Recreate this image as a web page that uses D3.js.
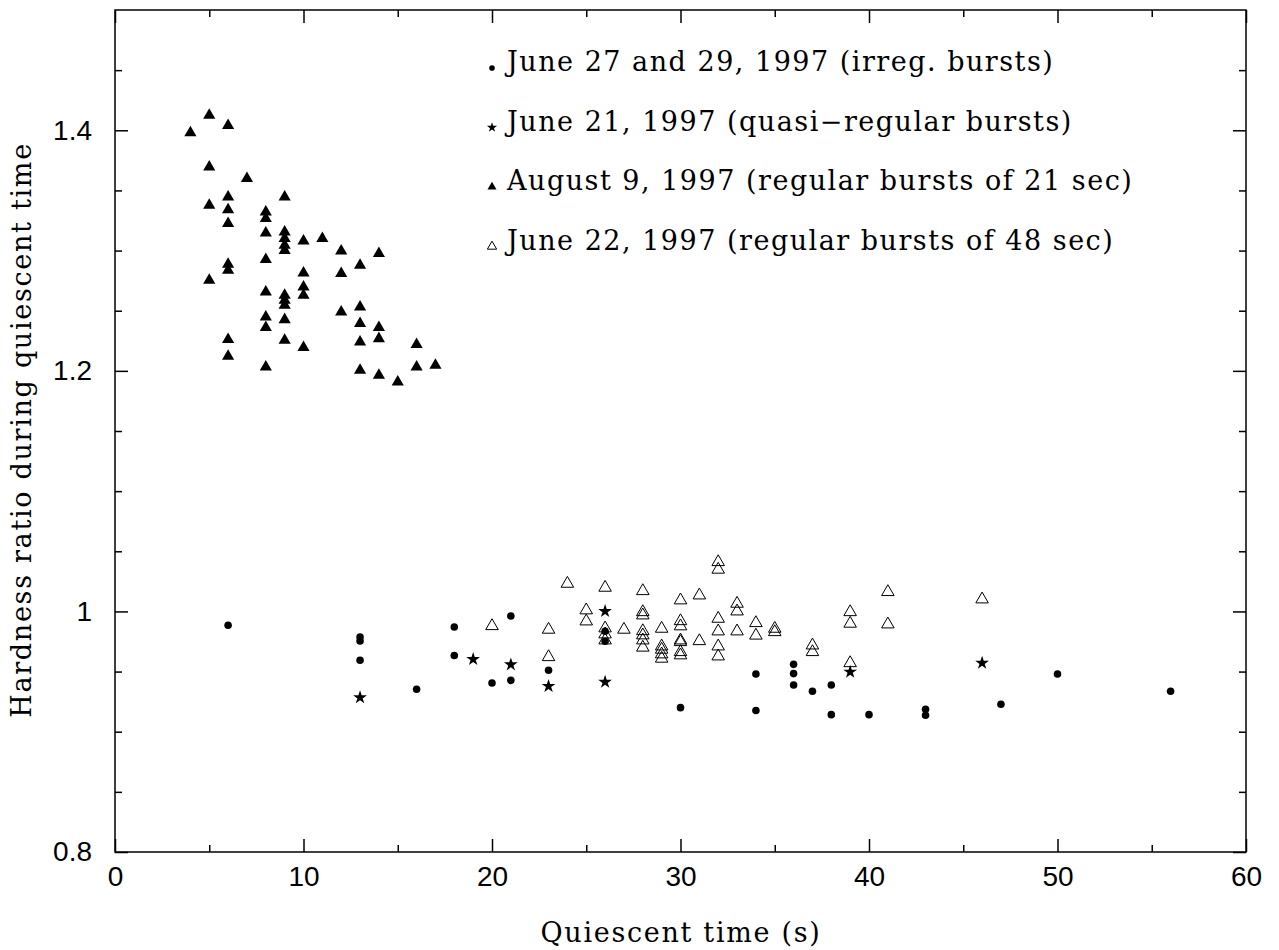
<!DOCTYPE html>
<html>
<head>
<meta charset="utf-8">
<script src="https://d3js.org/d3.v7.min.js"></script>
<style>
  body { margin: 0; background: #fff; }
  text { font-family: "DejaVu Serif", serif; fill: #000; }
</style>
</head>
<body>
<div id="chart"></div>
<script>
// quiescent time (s) / hardness ratio
var irregX = [6, 13, 13, 13, 16, 18, 18, 20, 21, 21, 23, 26, 26, 30, 34, 34, 36, 36, 36, 37, 38, 38, 40, 43, 43, 47, 50, 56];
var irregY = [0.9885, 0.9787, 0.9754, 0.9594, 0.9353, 0.9871, 0.9633, 0.9405, 0.9962, 0.9427, 0.9511, 0.9835, 0.9752, 0.920, 0.948, 0.9176, 0.956, 0.9483, 0.9389, 0.9336, 0.9389, 0.9142, 0.9142, 0.9186, 0.9137, 0.9228, 0.948, 0.9336];

var quasiX = [13, 19, 21, 23, 26, 26, 39, 46];
var quasiY = [0.9284, 0.9602, 0.9558, 0.9378, 1.0001, 0.9413, 0.9497, 0.9571];

var augX = [4, 5, 6, 5, 7, 5, 6, 6, 6, 9, 8, 8, 8, 9, 9, 9, 9, 10, 11, 12, 14, 13, 8, 6, 6, 5, 10, 12, 10, 10, 8, 9, 9, 9, 13, 12, 8, 8, 9, 13, 14, 6, 9, 13, 14, 16, 10, 6, 8, 13, 14, 15, 16, 17];
var augY = [1.398, 1.4125, 1.404, 1.3695, 1.360, 1.3377, 1.3446, 1.334, 1.3225, 1.3446, 1.332, 1.3266, 1.3146, 1.3155, 1.310, 1.3044, 1.300, 1.308, 1.310, 1.2997, 1.2975, 1.2878, 1.2925, 1.2886, 1.2836, 1.2753, 1.2814, 1.2809, 1.2697, 1.2628, 1.2656, 1.2628, 1.2587, 1.2545, 1.2531, 1.249, 1.2448, 1.236, 1.2426, 1.2393, 1.236, 1.226, 1.2254, 1.224, 1.2268, 1.222, 1.2194, 1.2121, 1.2032, 1.2005, 1.1963, 1.1908, 1.2032, 1.2046];

var jun22X = [20, 23, 23, 24, 25, 25, 26, 26, 26, 26, 27, 28, 28, 28, 28, 28, 28, 28, 29, 29, 29, 29, 29, 30, 30, 30, 30, 30, 30, 30, 31, 31, 32, 32, 32, 32, 32, 32, 33, 33, 33, 34, 34, 35, 35, 37, 37, 39, 39, 39, 41, 41, 46];
var jun22Y = [0.9879, 0.9849, 0.9621, 1.0231, 1.001, 0.9918, 1.0198, 0.986, 0.981, 0.976, 0.9849, 1.017, 0.9995, 0.9968, 0.9837, 0.9802, 0.976, 0.970, 0.9857, 0.971, 0.9683, 0.9644, 0.9608, 1.0093, 0.992, 0.9877, 0.976, 0.9746, 0.9663, 0.9636, 1.0134, 0.9754, 1.0411, 1.0348, 0.994, 0.9835, 0.971, 0.9627, 1.0065, 1.0001, 0.9835, 0.9904, 0.980, 0.9857, 0.9829, 0.9718, 0.9663, 0.9995, 0.9899, 0.9571, 1.0162, 0.9893, 1.0101];

var legendLabels = [
  "June 27 and 29, 1997 (irreg. bursts)",
  "June 21, 1997 (quasi\u2212regular bursts)",
  "August 9, 1997 (regular bursts of 21 sec)",
  "June 22, 1997 (regular bursts of 48 sec)"
];
var xMajor = [0, 10, 20, 30, 40, 50, 60];
var xMinor = [5, 15, 25, 35, 45, 55];
var yMajor = [0.8, 1.0, 1.2, 1.4];
var yMinor = [0.85, 0.9, 0.95, 1.05, 1.1, 1.15, 1.25, 1.3, 1.35, 1.45];

var W = 1279, H = 950;
var svg = d3.select("#chart").append("svg")
  .attr("width", W)
  .attr("height", H);

var x = d3.scaleLinear().domain([0, 60]).range([115, 1246]);
var y = d3.scaleLinear().domain([0.8, 1.5]).range([852, 10]);

function zip(xs, ys) { return xs.map(function(v, i) { return {x: v, y: ys[i]}; }); }

// ticks on all 4 sides, pointing inwards
function addAxis(axisFn, scale, vals, len, tx, ty, pad) {
  var g = svg.append("g")
    .attr("transform", "translate(" + tx + "," + ty + ")")
    .call(axisFn(scale).tickValues(vals).tickSizeInner(-len).tickSizeOuter(0)
      .tickPadding(pad || 0)
      .tickFormat(pad ? function(d) { return String(+d.toFixed(1)); } : ""));
  g.select(".domain").remove();
  g.selectAll(".tick line").attr("stroke", "#000").attr("stroke-width", 1.5);
  g.selectAll(".tick text").style("font-size", "28px").style("font-family", "Liberation Sans");
  return g;
}
addAxis(d3.axisBottom, x, xMajor, 13, 0, 852, 14);
addAxis(d3.axisBottom, x, xMinor, 7, 0, 852);
addAxis(d3.axisTop, x, xMajor, 13, 0, 10);
addAxis(d3.axisTop, x, xMinor, 7, 0, 10);
addAxis(d3.axisLeft, y, yMajor, 13, 115, 0, 23);
addAxis(d3.axisLeft, y, yMinor, 7, 115, 0);
addAxis(d3.axisRight, y, yMajor, 13, 1246, 0);
addAxis(d3.axisRight, y, yMinor, 7, 1246, 0);

svg.append("rect")
  .attr("x", 115).attr("y", 10)
  .attr("width", 1246 - 115).attr("height", 852 - 10)
  .attr("fill", "none").attr("stroke", "#000").attr("stroke-width", 1.5);

// axis titles
svg.append("text")
  .attr("x", 681).attr("y", 942)
  .attr("text-anchor", "middle")
  .style("font-size", "27px")
  .style("letter-spacing", "1.7px")
  .text("Quiescent time (s)");
svg.append("text")
  .attr("transform", "translate(31,430) rotate(-90)")
  .attr("text-anchor", "middle")
  .style("font-size", "27px")
  .style("letter-spacing", "1.7px")
  .text("Hardness ratio during quiescent time");

var series = [
  {data: zip(irregX, irregY), type: d3.symbolCircle, size: 45, fill: "#000"},
  {data: zip(quasiX, quasiY), type: d3.symbolStar, size: 58, fill: "#000"},
  {data: zip(augX, augY), type: d3.symbolTriangle, size: 64, fill: "#000"},
  {data: zip(jun22X, jun22Y), type: d3.symbolTriangle, size: 68, fill: "none"}
];

series.forEach(function(s) {
  svg.append("g").selectAll("path")
    .data(s.data)
    .enter().append("path")
    .attr("transform", function(d) { return "translate(" + x(d.x) + "," + y(d.y) + ")"; })
    .attr("d", d3.symbol().type(s.type).size(s.size))
    .attr("fill", s.fill)
    .attr("stroke", "#000")
    .attr("stroke-width", s.fill === "none" ? 1 : 0);
});

// legend
var leg = svg.append("g").selectAll("g")
  .data(series)
  .enter().append("g")
  .attr("transform", function(d, i) { return "translate(492," + (71 + i * 59.5) + ")"; });
leg.append("path")
  .attr("transform", "translate(0,-3)")
  .attr("d", function(d) { return d3.symbol().type(d.type).size(d.size * 0.55)(); })
  .attr("fill", function(d) { return d.fill; })
  .attr("stroke", "#000")
  .attr("stroke-width", function(d) { return d.fill === "none" ? 1 : 0; });
leg.append("text")
  .attr("x", 15)
  .style("font-size", "27px")
  .style("letter-spacing", "1.5px")
  .text(function(d, i) { return legendLabels[i]; });
</script>
</body>
</html>
